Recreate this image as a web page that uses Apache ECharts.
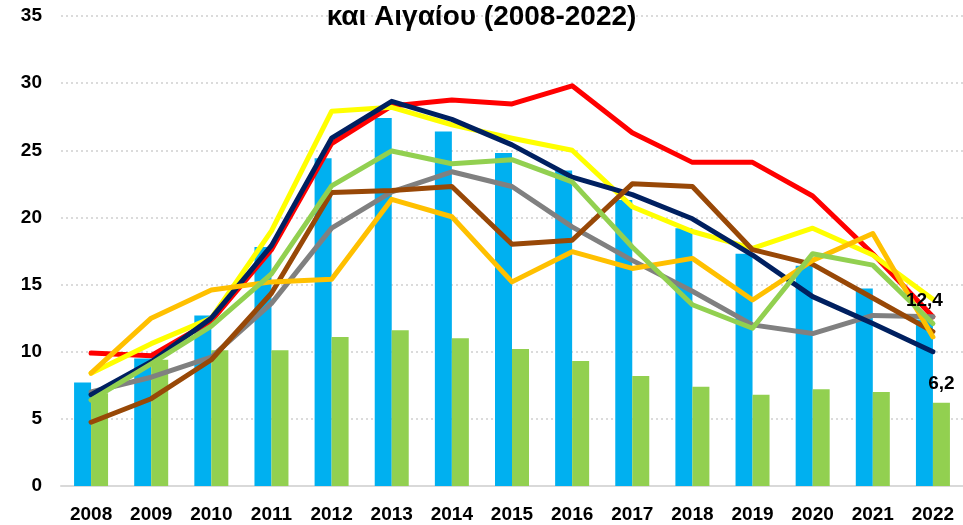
<!DOCTYPE html>
<html>
<head>
<meta charset="utf-8">
<script src="https://cdn.jsdelivr.net/npm/echarts@6/dist/echarts.min.js"></script>
<style>
html, body { margin: 0; padding: 0; background: #fff; }
#chart { width: 963px; height: 525px; }
</style>
</head>
<body>
<div id="chart"></div>
<script>
var years = ['2008', '2009', '2010', '2011', '2012', '2013', '2014', '2015', '2016', '2017', '2018', '2019', '2020', '2021', '2022']

// bars
var blueBars = [7.7, 9.5, 12.7, 17.8, 24.4, 27.4, 26.4, 24.8, 23.5, 21.3, 19.2, 17.3, 16.4, 14.7, 12.4]
var greenBars = [6.9, 9.4, 10.1, 10.1, 11.1, 11.6, 11.0, 10.2, 9.3, 8.2, 7.4, 6.8, 7.2, 7.0, 6.2]

// lines
var redLine = [9.9, 9.7, 12.3, 17.6, 25.5, 28.3, 28.75, 28.45, 29.8, 26.3, 24.1, 24.1, 21.6, 17.3, 12.6]
var yellowLine = [8.4, 10.6, 12.5, 19.0, 27.9, 28.2, 26.9, 25.9, 25.0, 20.8, 18.95, 17.7, 19.2, 17.2, 13.9]
var greyLine = [7.0, 8.1, 9.6, 13.6, 19.2, 21.9, 23.4, 22.3, 19.3, 16.8, 14.5, 12.0, 11.35, 12.7, 12.6]
var navyLine = [6.8, 9.25, 12.5, 17.9, 25.9, 28.65, 27.3, 25.4, 23.0, 21.7, 19.9, 17.2, 14.1, 12.1, 10.0]
var brownLine = [4.75, 6.5, 9.4, 14.35, 21.85, 22.0, 22.3, 18.0, 18.3, 22.5, 22.3, 17.6, 16.5, 14.0, 11.5]
var orangeLine = [8.4, 12.5, 14.6, 15.2, 15.4, 21.35, 20.05, 15.2, 17.45, 16.2, 16.95, 13.85, 16.8, 18.8, 11.1]
var greenLine = [6.4, 9.1, 11.9, 15.8, 22.35, 24.95, 24.0, 24.3, 22.65, 17.8, 13.5, 11.75, 17.3, 16.45, 12.1]

var font = 'Liberation Sans'
var last = years.length - 1

// only the 2022 bars carry a value label
function withLastLabel(arr) {
    return arr.map(function (v, i) {
        return i === last ? { value: v, label: { show: true } } : v
    })
}

function makeLine(name, color, data) {
    return {
        name: name,
        type: 'line',
        data: data,
        showSymbol: false,
        symbol: 'none',
        lineStyle: { color: color, width: 5, cap: 'round', join: 'round' },
        itemStyle: { color: color },
        z: 3
    }
}

var barLabel = {
    show: false,
    position: 'top',
    distance: 9,
    color: '#000',
    fontFamily: font,
    fontWeight: 'bold',
    fontSize: 19,
    formatter: function (p) { return String(p.value).replace('.', ',') }
}

// transparent copy of the bars on a hidden axis, so the labels sit above the lines
function labelBar(name, data) {
    return {
        name: name, type: 'bar', xAxisIndex: 1, data: withLastLabel(data),
        barWidth: 17, barGap: '0%', silent: true,
        itemStyle: { color: 'rgba(0,0,0,0)' }, label: barLabel, z: 10
    }
}

var chart = echarts.init(document.getElementById('chart'))
chart.setOption({
    animation: false,
    title: {
        text: 'και Αιγαίου (2008-2022)',
        left: 'center',
        top: -2,
        textStyle: { fontFamily: font, fontWeight: 'bold', fontSize: 28, color: '#000' }
    },
    grid: { left: 61, top: 16, width: 904, height: 470 },
    xAxis: [{
        type: 'category',
        data: years,
        axisTick: { show: false },
        axisLine: { lineStyle: { color: '#D9D9D9', width: 2 } },
        axisLabel: { color: '#000', fontFamily: font, fontWeight: 'bold', fontSize: 19, margin: 19 }
    }, {
        type: 'category',
        data: years,
        show: false
    }],
    yAxis: {
        type: 'value',
        min: 0,
        max: 35,
        interval: 5,
        axisLine: { show: false },
        axisTick: { show: false },
        axisLabel: { color: '#000', fontFamily: font, fontWeight: 'bold', fontSize: 19, margin: 19 },
        splitLine: { lineStyle: { color: '#D0D0D0', type: [2, 3], width: 1.5 } }
    },
    series: [
        {
            name: 'blue', type: 'bar', data: blueBars,
            barWidth: 17, barGap: '0%',
            itemStyle: { color: '#00B0F0' }, z: 2
        },
        {
            name: 'green', type: 'bar', data: greenBars,
            barWidth: 17, barGap: '0%',
            itemStyle: { color: '#92D050' }, z: 2
        },
        makeLine('red', '#FF0000', redLine),
        makeLine('yellow', '#FFFF00', yellowLine),
        makeLine('grey', '#808080', greyLine),
        makeLine('navy', '#002060', navyLine),
        makeLine('brown', '#984807', brownLine),
        makeLine('orange', '#FFC000', orangeLine),
        makeLine('lightgreen', '#92D050', greenLine),
        labelBar('blueLabel', blueBars),
        labelBar('greenLabel', greenBars)
    ]
})
</script>
</body>
</html>
